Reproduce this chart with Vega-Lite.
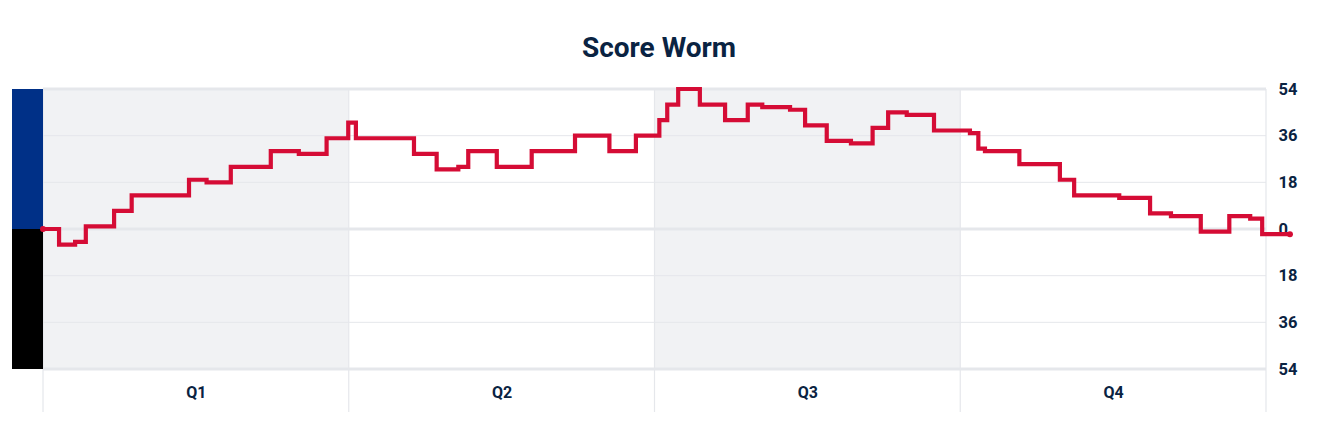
{
  "$schema": "https://vega.github.io/schema/vega-lite/v6.json",
  "description": "Score worm: running score margin through four quarters",
  "autosize": "none",
  "padding": {"left": 12, "top": 89, "right": 76, "bottom": 67},
  "width": 1254,
  "height": 280,
  "background": "white",
  "title": {
    "text": "Score Worm",
    "font": "Roboto",
    "fontSize": 28,
    "fontWeight": "bold",
    "color": "#0a2342",
    "anchor": "middle",
    "offset": 18,
    "dx": 20
  },
  "config": {"view": {"stroke": null}},
  "datasets": {
    "worm": [
      {"t": 0, "diff": 0},
      {"t": 0.63, "diff": -6},
      {"t": 1.26, "diff": -5},
      {"t": 1.68, "diff": 1},
      {"t": 2.79, "diff": 7},
      {"t": 3.48, "diff": 13},
      {"t": 5.73, "diff": 19},
      {"t": 6.42, "diff": 18},
      {"t": 7.37, "diff": 24},
      {"t": 8.94, "diff": 30},
      {"t": 10.04, "diff": 29},
      {"t": 11.13, "diff": 35},
      {"t": 11.98, "diff": 41},
      {"t": 12.28, "diff": 35},
      {"t": 14.56, "diff": 29},
      {"t": 15.45, "diff": 23},
      {"t": 16.3, "diff": 24},
      {"t": 16.69, "diff": 30},
      {"t": 17.81, "diff": 24},
      {"t": 19.18, "diff": 30},
      {"t": 20.88, "diff": 36},
      {"t": 22.23, "diff": 30},
      {"t": 23.27, "diff": 36},
      {"t": 24.19, "diff": 42},
      {"t": 24.5, "diff": 48},
      {"t": 24.93, "diff": 54},
      {"t": 25.78, "diff": 48},
      {"t": 26.77, "diff": 42},
      {"t": 27.66, "diff": 48},
      {"t": 28.23, "diff": 47},
      {"t": 29.32, "diff": 46},
      {"t": 29.91, "diff": 40},
      {"t": 30.76, "diff": 34},
      {"t": 31.71, "diff": 33},
      {"t": 32.56, "diff": 39},
      {"t": 33.17, "diff": 45},
      {"t": 33.9, "diff": 44},
      {"t": 34.97, "diff": 38},
      {"t": 36.38, "diff": 37},
      {"t": 36.71, "diff": 31},
      {"t": 36.97, "diff": 30},
      {"t": 38.32, "diff": 25},
      {"t": 39.91, "diff": 19},
      {"t": 40.47, "diff": 13},
      {"t": 42.24, "diff": 12},
      {"t": 43.45, "diff": 6},
      {"t": 44.27, "diff": 5},
      {"t": 45.44, "diff": -1},
      {"t": 46.56, "diff": 5},
      {"t": 47.38, "diff": 4},
      {"t": 47.85, "diff": -2},
      {"t": 48.94, "diff": -2}
    ],
    "quarters": [
      {"q": "Q1", "start": 0, "end": 12},
      {"q": "Q2", "start": 12, "end": 24},
      {"q": "Q3", "start": 24, "end": 36},
      {"q": "Q4", "start": 36, "end": 48}
    ],
    "dividers": [{"t": 0}, {"t": 12}, {"t": 24}, {"t": 36}, {"t": 48}],
    "grid": [{"v": -54}, {"v": -36}, {"v": -18}, {"v": 0}, {"v": 18}, {"v": 36}, {"v": 54}]
  },
  "layer": [
    {
      "data": {"name": "quarters"},
      "transform": [{"filter": "datum.q == 'Q1' || datum.q == 'Q3'"}],
      "mark": {"type": "rect", "fill": "#f1f2f4"},
      "encoding": {
        "x": {
          "field": "start",
          "type": "quantitative",
          "scale": {"domain": [-1.217, 48], "nice": false, "zero": false},
          "axis": {
            "orient": "bottom",
            "title": null,
            "values": [6, 18, 30, 42],
            "labelExpr": "datum.value == 6 ? 'Q1' : datum.value == 18 ? 'Q2' : datum.value == 30 ? 'Q3' : 'Q4'",
            "domain": false,
            "ticks": false,
            "tickSize": 0,
            "grid": false,
            "labelPadding": 23,
            "labelBaseline": "middle",
            "labelFont": "Roboto",
            "labelFontSize": 16,
            "labelFontWeight": "bold",
            "labelColor": "#0a2342"
          }
        },
        "x2": {"field": "end"},
        "y": {
          "datum": 54,
          "type": "quantitative",
          "scale": {"domain": [-54, 54], "nice": false, "zero": false},
          "axis": {
            "orient": "right",
            "title": null,
            "values": [-54, -36, -18, 0, 18, 36, 54],
            "labelExpr": "abs(datum.value)",
            "domain": false,
            "ticks": false,
            "tickSize": 0,
            "grid": false,
            "labelPadding": 12,
            "labelFont": "Roboto",
            "labelFontSize": 16.5,
            "labelFontWeight": "bold",
            "labelColor": "#0a2342"
          }
        },
        "y2": {"datum": -54}
      }
    },
    {
      "data": {"name": "grid"},
      "mark": {"type": "rule", "color": "#e5e7eb"},
      "encoding": {
        "x": {"datum": 0, "type": "quantitative"},
        "x2": {"datum": 48},
        "y": {"field": "v", "type": "quantitative"},
        "strokeWidth": {
          "condition": {"test": "abs(datum.v) % 54 == 0", "value": 3},
          "value": 1
        }
      }
    },
    {
      "data": {"name": "dividers"},
      "mark": {"type": "rule", "color": "#e5e7eb", "strokeWidth": 1.2},
      "encoding": {
        "x": {"field": "t", "type": "quantitative"},
        "y": {"datum": 54, "type": "quantitative"},
        "y2": {"datum": -70.6}
      }
    },
    {
      "data": {"values": [{"team": "top"}]},
      "mark": {"type": "rect", "fill": "#003087"},
      "encoding": {
        "x": {"datum": -1.217, "type": "quantitative"},
        "x2": {"datum": 0},
        "y": {"datum": 54, "type": "quantitative"},
        "y2": {"datum": 0}
      }
    },
    {
      "data": {"values": [{"team": "bottom"}]},
      "mark": {"type": "rect", "fill": "#000000"},
      "encoding": {
        "x": {"datum": -1.217, "type": "quantitative"},
        "x2": {"datum": 0},
        "y": {"datum": 0, "type": "quantitative"},
        "y2": {"datum": -54}
      }
    },
    {
      "data": {"name": "worm"},
      "mark": {
        "type": "line",
        "interpolate": "step-after",
        "color": "#d50c35",
        "strokeWidth": 4.2,
        "strokeJoin": "miter"
      },
      "encoding": {
        "x": {"field": "t", "type": "quantitative"},
        "y": {"field": "diff", "type": "quantitative"}
      }
    },
    {
      "data": {"name": "worm"},
      "transform": [{"filter": "datum.t == 0 || datum.t > 48.5"}],
      "mark": {"type": "circle", "color": "#d50c35", "opacity": 1, "size": 36},
      "encoding": {
        "x": {"field": "t", "type": "quantitative"},
        "y": {"field": "diff", "type": "quantitative"}
      }
    }
  ]
}
